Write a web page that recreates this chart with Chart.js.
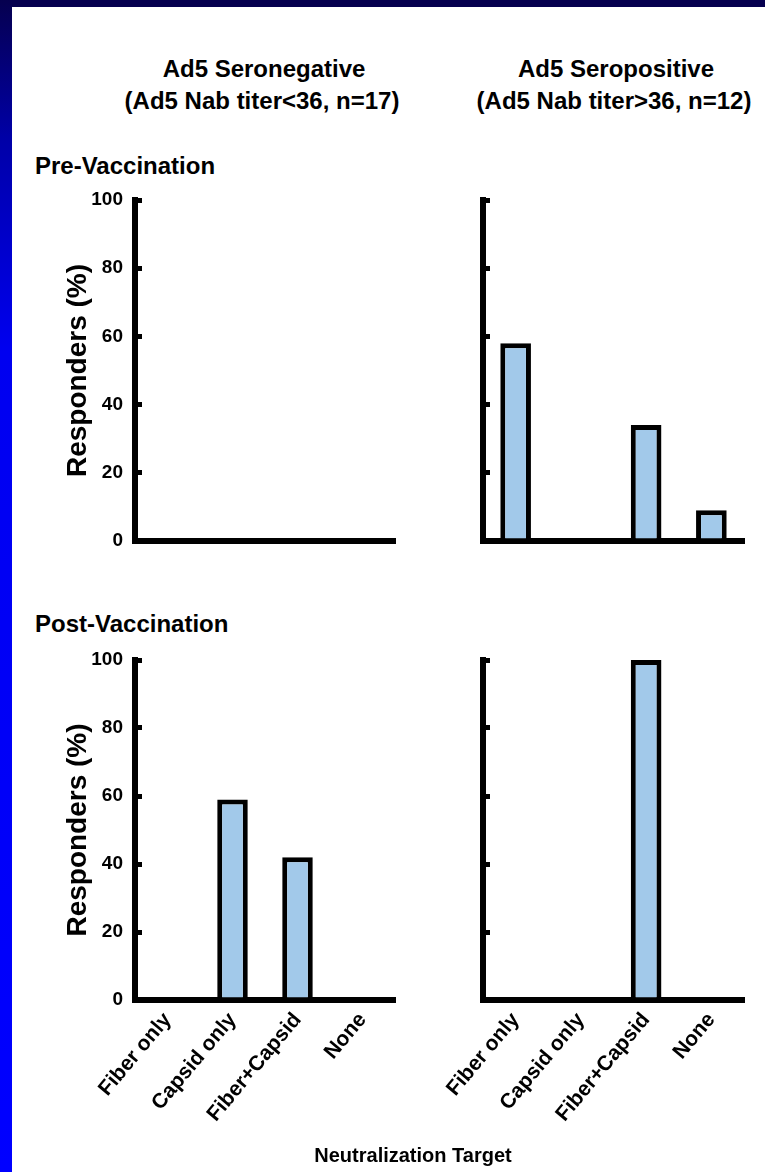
<!DOCTYPE html>
<html lang="en">
<head>
<meta charset="UTF-8">
<title>Ad5 Neutralization Target Responders</title>
<script src="https://cdn.jsdelivr.net/npm/chart.js"></script>
<style>
  html, body { margin: 0; padding: 0; }
  body {
    width: 765px; height: 1172px; position: relative; overflow: hidden;
    background: #fff; color: #000;
    font-family: 'Liberation Sans', Arial, sans-serif; font-weight: bold;
  }
  .top-strip { position: absolute; left: 0; top: 0; width: 765px; height: 7px; background: #06004f; }
  .left-strip {
    position: absolute; left: 0; top: 0; width: 12px; height: 1172px;
    background: linear-gradient(#06004f 0%, #0000a8 12%, #0000f0 30%, #0000ff 100%);
  }
  .lbl { position: absolute; white-space: nowrap; font-size: 24px; line-height: 24px; }
  .c { transform: translate(-50%, -50%); }
  canvas { position: absolute; }
</style>
</head>
<body>
  <div class="top-strip"></div>
  <div class="left-strip"></div>

  <!-- column headers -->
  <div class="lbl c" style="left:264px; top:69px;">Ad5 Seronegative</div>
  <div class="lbl c" style="left:262px; top:101px;">(Ad5 Nab titer&lt;36, n=17)</div>
  <div class="lbl c" style="left:616px; top:69px;">Ad5 Seropositive</div>
  <div class="lbl c" style="left:614px; top:101px;">(Ad5 Nab titer&gt;36, n=12)</div>

  <!-- row headers -->
  <div class="lbl" style="left:35px; top:154px;">Pre-Vaccination</div>
  <div class="lbl" style="left:35px; top:612px;">Post-Vaccination</div>

  <canvas id="preNeg" width="375" height="365" style="left:30px; top:188px;"></canvas>
  <canvas id="prePos" width="371" height="365" style="left:383px; top:188px;"></canvas>
  <canvas id="postNeg" width="375" height="502" style="left:30px; top:648px;"></canvas>
  <canvas id="postPos" width="371" height="502" style="left:383px; top:648px;"></canvas>

  <div class="lbl c" style="left:413px; top:1155px; font-size:20px; line-height:20px;">Neutralization Target</div>

<script>
// categories (x tick labels) and percentage of responders per panel
const categories = ['Fiber only', 'Capsid only', 'Fiber+Capsid', 'None'];
const preSeronegative = [0, 0, 0, 0];
const preSeropositive = [58, 0, 34, 9];
const postSeronegative = [0, 59, 42, 0];
const postSeropositive = [0, 0, 100, 0];
const yTicks = [0, 20, 40, 60, 80, 100];

Chart.defaults.font.family = "'Liberation Sans', Arial, sans-serif";
Chart.defaults.color = '#000';

function makeChart(id, values, opts) {
    new Chart(document.getElementById(id), {
        type: 'bar',
        data: {
            labels: categories,
            datasets: [{
                data: values,
                backgroundColor: '#a2c9ea',
                borderColor: '#000',
                borderWidth: 5,
                barPercentage: 0.47,
                categoryPercentage: 1
            }]
        },
        options: {
            responsive: false,
            animation: false,
            layout: { padding: { top: 12, right: 10, left: 0, bottom: 0 } },
            plugins: { legend: { display: false }, tooltip: { enabled: false } },
            scales: {
                x: {
                    grid: { display: false, drawTicks: false },
                    border: { display: true, color: '#000', width: 6 },
                    ticks: {
                        display: opts.xLabels,
                        autoSkip: false,
                        minRotation: 50,
                        maxRotation: 50,
                        padding: 8,
                        font: { size: 21, weight: 'bold' }
                    },
                    afterFit: s => { s.height = opts.xHeight; s.paddingLeft = 0; s.paddingRight = 0; }
                },
                y: {
                    min: 0,
                    max: 100,
                    afterBuildTicks: s => { s.ticks = yTicks.map(v => ({ value: v })); },
                    // short tick marks pointing into the plot
                    grid: { drawOnChartArea: false, drawTicks: true, tickLength: -7, lineWidth: 5, color: '#000' },
                    border: { display: true, color: '#000', width: 6 },
                    ticks: { display: opts.yLabels, padding: 19, font: { size: 19, weight: 'bold' } },
                    title: {
                        display: opts.yLabels,
                        text: 'Responders (%)',
                        font: { size: 28, weight: 'bold' },
                        padding: { top: 31, bottom: 0 }
                    },
                    afterFit: s => { s.width = opts.yWidth; s.paddingTop = 0; s.paddingBottom = 0; }
                }
            }
        }
    });
}

makeChart('preNeg', preSeronegative, { xLabels: false, yLabels: true, yWidth: 105, xHeight: 12 });
makeChart('prePos', preSeropositive, { xLabels: false, yLabels: false, yWidth: 100, xHeight: 12 });
makeChart('postNeg', postSeronegative, { xLabels: true, yLabels: true, yWidth: 105, xHeight: 150 });
makeChart('postPos', postSeropositive, { xLabels: true, yLabels: false, yWidth: 100, xHeight: 150 });
</script>
</body>
</html>
